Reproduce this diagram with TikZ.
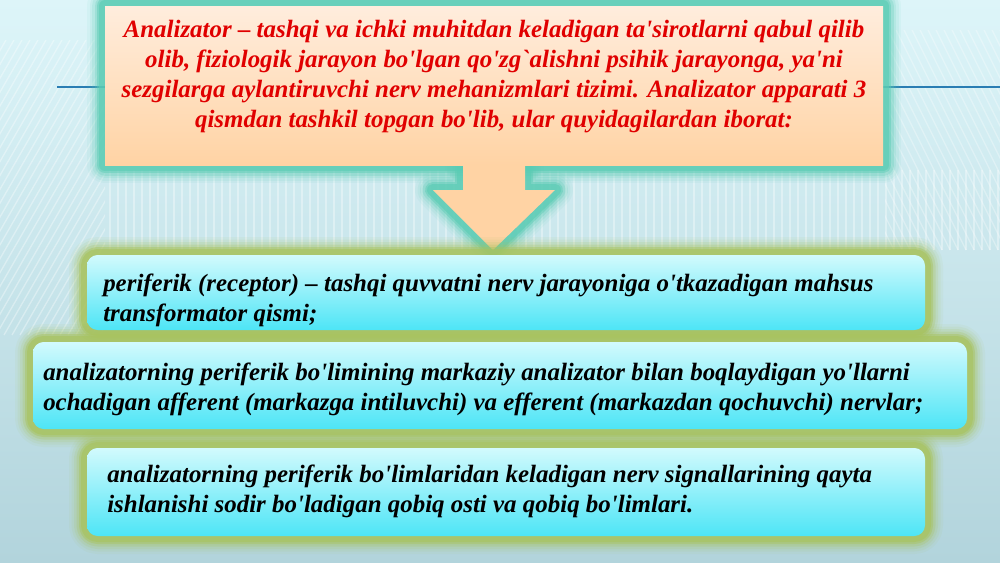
\documentclass[tikz,border=0pt]{standalone}
\usepackage{fontspec}
\setmainfont{Liberation Serif}
\usetikzlibrary{positioning}
\definecolor{bgtop}{HTML}{DDF5F9}
\definecolor{bgbot}{HTML}{B2D4DC}
\definecolor{peachtop}{HTML}{FFEDDD}
\definecolor{peachbot}{HTML}{FFD3A4}
\definecolor{tealglow}{HTML}{5ACCB4}
\definecolor{cyantop}{HTML}{D2FAFD}
\definecolor{cyanbot}{HTML}{4DE5F6}
\definecolor{oliveglow}{HTML}{A8C35E}
\definecolor{redtext}{HTML}{E00000}
\definecolor{slideline}{HTML}{2A7DB3}
\newcommand\apo{\textquotesingle}
\newcommand\glow[3]{\foreach \w/\o in {36/0.07,31/0.1,26/0.15,21/0.25,16/0.45,12/0.6}
  {\draw[#1,line width=\w*0.75pt,draw opacity=\o,line join=round,rounded corners=#3] #2;}}
\tikzset{
  body/.style={font=\fontsize{18.7}{22.5}\selectfont\bfseries\itshape,inner sep=0pt},
  item/.style={body,align=left,anchor=base west},
  itembox/.style={top color=cyantop,bottom color=cyanbot,rounded corners=8pt},
}

\begin{document}
\begin{tikzpicture}[x=0.75pt,y=-0.75pt]
    \shade[top color=bgtop,bottom color=bgbot] (0,0) rectangle (1000,562);
    \useasboundingbox (0,0) rectangle (1000,562);
    % stripes of the slide
    \begin{scope}
        \clip (0,40) rectangle (105,335);
        \foreach \i in {-220,-212,...,110}
            \draw[white,opacity=0.35,line width=1pt] (\i,335) -- (\i+170,40);
    \end{scope}
    \begin{scope}
        \clip (885,30) rectangle (1000,250);
        \foreach \i in {760,768,...,1000}
            \draw[white,opacity=0.3,line width=1pt] (\i,30) -- (\i+110,250);
    \end{scope}
    \begin{scope}
        \clip (105,170) rectangle (1000,250);
        \foreach \i in {110,118,...,1000}
            \draw[white,opacity=0.35,line width=1pt] (\i,170) -- (\i,250);
    \end{scope}
    \draw[slideline,line width=1pt] (57,87) -- (105,87);
    \draw[slideline,line width=1pt] (883,87) -- (1000,87);

    % top box and arrow
    \glow{tealglow}{(105,6) rectangle (883,165)}{0pt}
    \glow{tealglow}{(463,160) -- (525,160) -- (525,190) -- (555,190) -- (493,250) -- (433,190) -- (463,190) -- cycle}{0pt}
    \shade[top color=peachtop,bottom color=peachbot] (105,6) rectangle (883,165);
    \fill[peachbot] (463,164) -- (525,164) -- (525,190) -- (555,190) -- (493,250) -- (433,190) -- (463,190) -- cycle;
    \node(intro)[body,align=center,anchor=base,text=redtext] at (494,127)
        {Analizator – tashqi va ichki muhitdan keladigan ta\apo{}sirotlarni qabul qilib\\
         olib, fiziologik jarayon bo\apo{}lgan qo\apo{}zg\textasciigrave{}alishni psihik jarayonga, ya\apo{}ni\\
         sezgilarga aylantiruvchi nerv mehanizmlari tizimi. Analizator apparati 3\\
         qismdan tashkil topgan bo\apo{}lib, ular quyidagilardan iborat:};

    % parts of the analyser
    \glow{oliveglow}{(87,255) rectangle (925,330)}{8pt}
    \glow{oliveglow}{(33,342) rectangle (967,429)}{8pt}
    \glow{oliveglow}{(87,448) rectangle (925,536)}{8pt}
    \shade[itembox] (87,255) rectangle (925,330);
    \shade[itembox] (33,342) rectangle (967,429);
    \shade[itembox] (87,448) rectangle (925,536);
    \node(part1)[item] at (103,321)
        {periferik (receptor) – tashqi quvvatni nerv jarayoniga o\apo{}tkazadigan mahsus\\
         transformator qismi;};
    \node(part2)[item] at (43,410)
        {analizatorning periferik bo\apo{}limining markaziy analizator bilan boqlaydigan yo\apo{}llarni\\
         ochadigan afferent (markazga intiluvchi) va efferent (markazdan qochuvchi) nervlar;};
    \node(part3)[item] at (107,512)
        {analizatorning periferik bo\apo{}limlaridan keladigan nerv signallarining qayta\\
         ishlanishi sodir bo\apo{}ladigan qobiq osti va qobiq bo\apo{}limlari.};
\end{tikzpicture}
\end{document}
